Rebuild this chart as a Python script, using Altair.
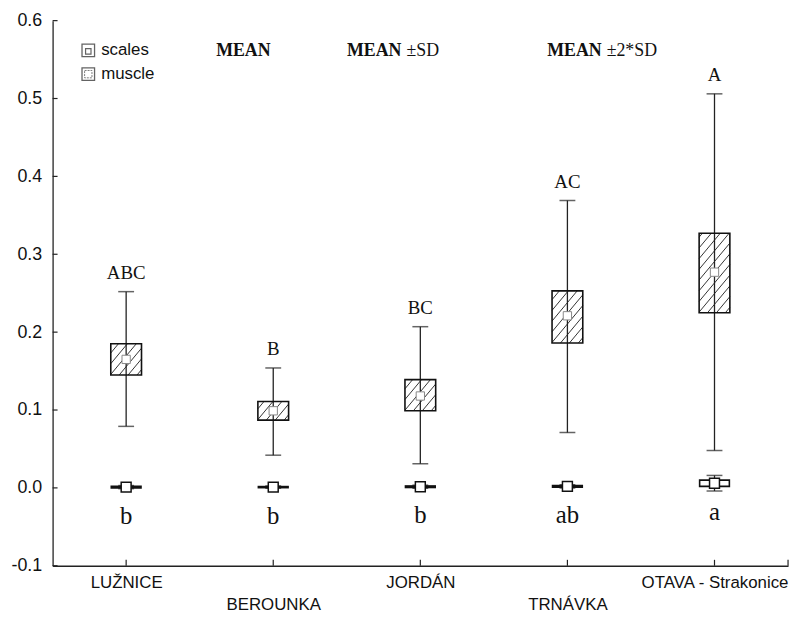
import altair as alt
import pandas as pd

rivers = ["LUŽNICE", "BEROUNKA", "JORDÁN", "TRNÁVKA", "OTAVA - Strakonice"]
idx = [0, 1, 2, 3, 4]

muscle_mean = [0.165, 0.099, 0.118, 0.221, 0.277]
muscle_sd_lo = [0.145, 0.087, 0.099, 0.186, 0.225]
muscle_sd_hi = [0.185, 0.111, 0.139, 0.253, 0.327]
muscle_2sd_lo = [0.079, 0.042, 0.031, 0.071, 0.048]
muscle_2sd_hi = [0.252, 0.154, 0.207, 0.369, 0.506]
muscle_letters = ["ABC", "B", "BC", "AC", "A"]

scales_mean = [0.001, 0.001, 0.0015, 0.002, 0.006]
scales_sd_lo = [0.0, 0.0003, 0.0005, 0.001, 0.002]
scales_sd_hi = [0.002, 0.0017, 0.0025, 0.003, 0.010]
scales_2sd_lo = [-0.001, -0.0005, -0.0005, 0.0, -0.004]
scales_2sd_hi = [0.003, 0.0025, 0.0035, 0.004, 0.016]
scales_letters = ["b", "b", "b", "ab", "a"]

y_ticks = [-0.1, 0.0, 0.1, 0.2, 0.3, 0.4, 0.5, 0.6]
x_ticks = [0, 1, 2, 3, 4, 4.5]

W_PLOT, H_PLOT = 742, 550
X_DOM = [-0.5, 4.5]
Y_DOM = [-0.1, 0.6]

muscle = pd.DataFrame({
    "i": idx, "river": rivers, "mean": muscle_mean,
    "lo": muscle_sd_lo, "hi": muscle_sd_hi,
    "lo2": muscle_2sd_lo, "hi2": muscle_2sd_hi, "lab": muscle_letters,
})
scales = pd.DataFrame({
    "i": idx, "river": rivers, "mean": scales_mean,
    "lo": scales_sd_lo, "hi": scales_sd_hi,
    "lo2": scales_2sd_lo, "hi2": scales_2sd_hi, "lab": scales_letters,
})

# hatch texture segments derived from the muscle boxes
PXX = W_PLOT / (X_DOM[1] - X_DOM[0])
PXY = H_PLOT / (Y_DOM[1] - Y_DOM[0])
BOX_W = 31
k = 1.2
step = 9
segs = []
for i, lo, hi in zip(idx, muscle_sd_lo, muscle_sd_hi):
    H = (hi - lo) * PXY
    c = -k * BOX_W + step * k * 0.5
    while c < H:
        u0 = max(0.0, -c / k)
        u1 = min(float(BOX_W), (H - c) / k)
        if u1 > u0 + 0.5:
            v0 = k * u0 + c
            v1 = k * u1 + c
            segs.append({
                "x": i - BOX_W / 2 / PXX + u0 / PXX,
                "x2": i - BOX_W / 2 / PXX + u1 / PXX,
                "y": lo + v0 / PXY,
                "y2": lo + v1 / PXY,
            })
        c += step * k
hatch = pd.DataFrame(segs)

label_expr = "[" + ",".join("'" + r + "'" for r in rivers) + "][datum.value]"

xs = alt.Scale(domain=X_DOM, nice=False, zero=False, padding=0)
ys = alt.Scale(domain=Y_DOM, nice=False, zero=False, padding=0)

X = alt.X("i:Q", scale=xs, axis=alt.Axis(
    values=idx, labelExpr=label_expr, title=None, grid=False, ticks=False,
    labelFont="Liberation Sans Narrow, Arial Narrow, Liberation Sans",
    labelFontSize=17, labelColor="#111", labelOverlap=False, labelFlush=False,
    labelBound=False, labelBaseline="top",
    labelPadding={"condition": {"test": "datum.value % 2 == 1", "value": 31}, "value": 9},
    domainColor="#222", domainWidth=1.3))
Y = alt.Y("lo2:Q", scale=ys, axis=alt.Axis(
    values=y_ticks, labelExpr="replace(format(datum.value, '.1f'), '\u2212', '-')",
    title=None, grid=False, ticks=False,
    labelFont="Liberation Sans, Arial", labelFontSize=18, labelColor="#111",
    labelPadding=11, domainColor="#222", domainWidth=1.3, labelFlush=False))

# muscle
m_whisk = alt.Chart(muscle).mark_rule(color="#222", strokeWidth=1.3).encode(
    x=X, y=Y, y2="hi2:Q")
m_caps_hi = alt.Chart(muscle).mark_tick(orient="horizontal", size=16, thickness=1.5,
                                        color="#222").encode(
    x=alt.X("i:Q", scale=xs), y=alt.Y("hi2:Q", scale=ys))
m_caps_lo = alt.Chart(muscle).mark_tick(orient="horizontal", size=16, thickness=1.5,
                                        color="#222").encode(
    x=alt.X("i:Q", scale=xs), y=alt.Y("lo2:Q", scale=ys))
m_box_fill = alt.Chart(muscle).mark_bar(size=BOX_W, color="white").encode(
    x=alt.X("i:Q", scale=xs), y=alt.Y("lo:Q", scale=ys), y2="hi:Q")
m_hatch = alt.Chart(hatch).mark_rule(color="#333", strokeWidth=1).encode(
    x=alt.X("x:Q", scale=xs), x2="x2:Q", y=alt.Y("y:Q", scale=ys), y2="y2:Q")
m_line_in = alt.Chart(muscle).mark_rule(color="#222", strokeWidth=1.3).encode(
    x=alt.X("i:Q", scale=xs), y=alt.Y("lo:Q", scale=ys), y2="hi:Q")
m_box_edge = alt.Chart(muscle).mark_bar(size=BOX_W, fillOpacity=0, stroke="#111",
                                        strokeWidth=1.6).encode(
    x=alt.X("i:Q", scale=xs), y=alt.Y("lo:Q", scale=ys), y2="hi:Q")
m_mean = alt.Chart(muscle).mark_point(shape="square", size=70, filled=True,
                                      fill="white", stroke="#888", strokeWidth=1,
                                      opacity=1).encode(
    x=alt.X("i:Q", scale=xs), y=alt.Y("mean:Q", scale=ys))
m_lab = alt.Chart(muscle).mark_text(font="Liberation Serif, Times New Roman",
                                    fontSize=19, dy=-19, color="#111",
                                    baseline="middle").encode(
    x=alt.X("i:Q", scale=xs), y=alt.Y("hi2:Q", scale=ys), text="lab:N")

# scales
s_whisk = alt.Chart(scales).mark_rule(color="#222", strokeWidth=1.3).encode(
    x=alt.X("i:Q", scale=xs), y=alt.Y("lo2:Q", scale=ys), y2="hi2:Q")
s_caps_hi = alt.Chart(scales).mark_tick(orient="horizontal", size=16, thickness=1.5,
                                        color="#222").encode(
    x=alt.X("i:Q", scale=xs), y=alt.Y("hi2:Q", scale=ys))
s_caps_lo = alt.Chart(scales).mark_tick(orient="horizontal", size=16, thickness=1.5,
                                        color="#222").encode(
    x=alt.X("i:Q", scale=xs), y=alt.Y("lo2:Q", scale=ys))
s_box = alt.Chart(scales).mark_bar(size=30, fill="white", stroke="#111",
                                   strokeWidth=1.6).encode(
    x=alt.X("i:Q", scale=xs), y=alt.Y("lo:Q", scale=ys), y2="hi:Q")
s_mean = alt.Chart(scales).mark_point(shape="square", size=100, filled=True,
                                      fill="white", stroke="#111", strokeWidth=1.5,
                                      opacity=1).encode(
    x=alt.X("i:Q", scale=xs), y=alt.Y("mean:Q", scale=ys))
s_lab = alt.Chart(scales).mark_text(font="Liberation Serif, Times New Roman",
                                    fontSize=25, dy=29, color="#111",
                                    baseline="middle").encode(
    x=alt.X("i:Q", scale=xs), y=alt.Y("mean:Q", scale=ys), text="lab:N")

# inward ticks
yt = alt.Chart(pd.DataFrame({"v": y_ticks})).mark_rule(color="#222", strokeWidth=1.2).encode(
    y=alt.Y("v:Q", scale=ys), x=alt.value(0), x2=alt.value(5))
xt = alt.Chart(pd.DataFrame({"v": x_ticks})).mark_rule(color="#222", strokeWidth=1.2).encode(
    x=alt.X("v:Q", scale=xs), y=alt.value(H_PLOT), y2=alt.value(H_PLOT - 6))

# legend + headers
one = pd.DataFrame({"t": [""]})
def txt(t, x, y, size=17, font="Liberation Serif, Times New Roman", weight="normal"):
    return alt.Chart(one).mark_text(text=t, align="left", baseline="middle",
                                    fontSize=size, font=font, fontWeight=weight,
                                    color="#111").encode(x=alt.value(x), y=alt.value(y))

leg_s_outer = alt.Chart(one).mark_point(shape="square", size=160, filled=False,
                                        stroke="#222", strokeWidth=1.3).encode(
    x=alt.value(36), y=alt.value(30))
leg_s_inner = alt.Chart(one).mark_point(shape="square", size=30, filled=False,
                                        stroke="#222", strokeWidth=1.2).encode(
    x=alt.value(36), y=alt.value(31))
leg_m_outer = alt.Chart(one).mark_point(shape="square", size=160, filled=False,
                                        stroke="#222", strokeWidth=1.3).encode(
    x=alt.value(36), y=alt.value(54))
leg_m_inner = alt.Chart(one).mark_point(shape="square", size=55, filled=False,
                                        stroke="#444", strokeWidth=1,
                                        strokeDash=[2, 1]).encode(
    x=alt.value(36), y=alt.value(54))

annots = [
    leg_s_outer, leg_s_inner, leg_m_outer, leg_m_inner,
    txt("scales", 49, 30, 17, "Liberation Sans, Arial"),
    txt("muscle", 49, 54, 17, "Liberation Sans, Arial"),
    txt("MEAN", 165, 31, 18, weight="bold"),
    txt("MEAN", 297, 31, 18, weight="bold"),
    txt("±SD", 357, 31, 18),
    txt("MEAN", 499, 31, 18, weight="bold"),
    txt("±2*SD", 559, 31, 18),
]

chart = alt.layer(
    m_whisk, m_caps_hi, m_caps_lo, m_box_fill, m_hatch, m_line_in, m_box_edge,
    m_mean, m_lab,
    s_whisk, s_caps_hi, s_caps_lo, s_box, s_mean, s_lab,
    yt, xt, *annots,
).properties(
    width=W_PLOT, height=H_PLOT,
    padding={"left": 45, "top": 10, "right": 5, "bottom": 56},
    autosize=alt.AutoSizeParams(type="none"),
    background="white",
).configure_view(stroke=None)

chart.save("out.html", embed_options={"renderer": "svg", "actions": False})
